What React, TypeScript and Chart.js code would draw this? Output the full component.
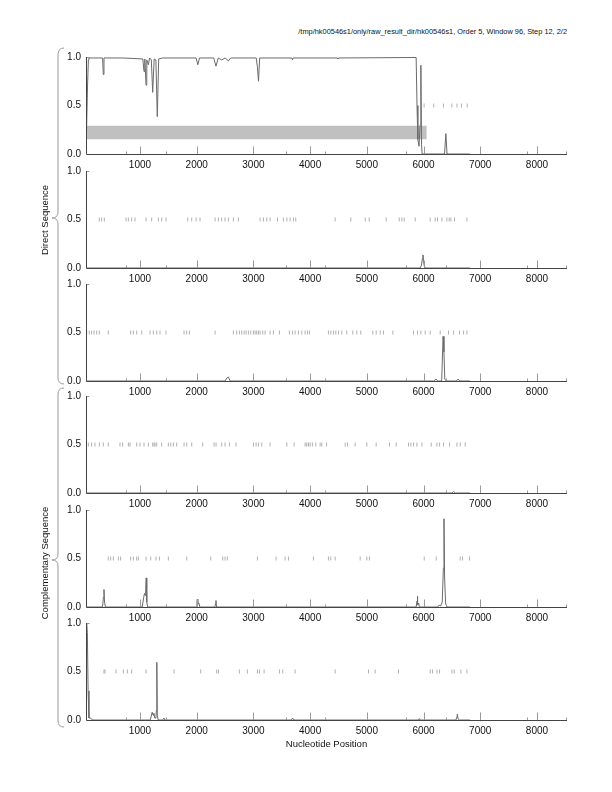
import React, { useEffect, useRef } from "react";
import { Chart, registerables } from "chart.js";
Chart.register(...registerables);

// ---------- data ----------
const X_MIN = 48;
const X_MAX = 8530;
const MAJOR_TICKS = [1000, 2000, 3000, 4000, 5000, 6000, 7000, 8000];
const MINOR_TICKS = [750, 1450, 3570, 4270, 5690, 6400, 7820];
const Y_TICKS = [0, 0.5, 1];

const TITLE = "/tmp/hk00546s1/only/raw_result_dir/hk00546s1, Order 5, Window 96, Step 12, 2/2";
const X_TITLE = "Nucleotide Position";
const DIRECT_LABEL = "Direct Sequence";
const COMPL_LABEL = "Complementary Sequence";

// coding-region bar in panel 1
const BAR_X = [48, 6057];
const BAR_LOW = 0.152;
const BAR_HIGH = 0.29;

const p1X = [48, 60, 75, 90, 100, 340, 353, 365, 700, 1050, 1071, 1085, 1107, 1120, 1147, 1170, 1200, 1224, 1250, 1280, 1305, 1330, 1400, 1990, 2020, 2050, 2300, 2340, 2380, 2441, 2500, 2559, 2600, 3050, 3070, 3090, 3110, 3680, 3688, 3700, 4480, 4488, 4500, 5870, 5885, 5900, 5920, 5940, 5953, 5965, 5975, 6370, 6394, 6415, 6820];
const p1Y = [0, 0, 0.7, 0.97, 0.99, 0.99, 0.82, 0.99, 0.99, 0.98, 0.85, 0.98, 0.71, 0.97, 0.92, 0.99, 0.97, 0.635, 0.98, 0.97, 0.385, 0.98, 0.99, 0.99, 0.92, 0.99, 0.99, 0.905, 0.99, 0.97, 0.99, 0.96, 0.99, 0.99, 0.9, 0.75, 0.99, 0.99, 0.97, 0.99, 0.99, 0.98, 0.99, 0.995, 0.5, 0.15, 0.08, 0.3, 0.915, 0.1, 0, 0, 0.21, 0, 0];

const p2X = [48, 5940, 5965, 5980, 5990, 6000, 6010, 6030, 6820];
const p2Y = [0, 0, 0.03, 0.1, 0.135, 0.08, 0.03, 0, 0];

const p3X = [48, 2500, 2530, 2560, 2590, 6180, 6220, 6250, 6320, 6345, 6360, 6375, 6400, 6580, 6610, 6640, 6820];
const p3Y = [0, 0, 0.03, 0.04, 0, 0, 0.02, 0, 0, 0.46, 0.3, 0.02, 0, 0, 0.02, 0, 0];

const p4X = [48, 6500, 6530, 6560, 6820];
const p4Y = [0, 0, 0.015, 0, 0];

const p5X = [48, 340, 355, 365, 375, 390, 1040, 1065, 1080, 1090, 1100, 1110, 1120, 1135, 1990, 2005, 2011, 2020, 2040, 2055, 2320, 2335, 2340, 2350, 5870, 5885, 5890, 5900, 5915, 5925, 5935, 6250, 6275, 6300, 6330, 6350, 6361, 6372, 6390, 6420, 6820];
const p5Y = [0, 0, 0.1, 0.18, 0.05, 0, 0, 0.1, 0.14, 0.12, 0.18, 0.3, 0.05, 0, 0, 0.06, 0.08, 0.03, 0.04, 0, 0, 0.04, 0.067, 0, 0, 0.06, 0.11, 0.02, 0.04, 0, 0, 0, 0.02, 0.01, 0.05, 0.4, 0.91, 0.3, 0.03, 0, 0];

const p6X = [48, 60, 72, 85, 100, 120, 140, 170, 1180, 1200, 1215, 1230, 1245, 1260, 1280, 1290, 1297, 1305, 1320, 1400, 1420, 1440, 3670, 3690, 3710, 5910, 5925, 5940, 6570, 6590, 6597, 6610, 6630, 6820];
const p6Y = [0.98, 1.0, 0.9, 0.3, 0.02, 0.025, 0.01, 0, 0, 0.04, 0.08, 0.05, 0.07, 0.02, 0.02, 0.1, 0.595, 0.05, 0, 0, 0.02, 0, 0, 0.02, 0, 0, 0.015, 0, 0, 0.03, 0.06, 0.01, 0, 0];

const stops1 = [6010, 6180, 6350, 6500, 6590, 6670, 6770];
const stops2 = [283, 324, 371, 754, 795, 853, 912, 1107, 1206, 1324, 1383, 1459, 1842, 1912, 1989, 2059, 2324, 2383, 2441, 2500, 2559, 2647, 2735, 3118, 3177, 3236, 3294, 3424, 3529, 3589, 3647, 3706, 3747, 4441, 4718, 4971, 5042, 5342, 5571, 5618, 5659, 5853, 6118, 6206, 6247, 6324, 6412, 6453, 6483, 6547, 6765];
const stops3 = [60, 106, 147, 189, 236, 283, 441, 836, 883, 942, 1030, 1177, 1236, 1295, 1353, 1459, 1777, 1824, 1871, 2324, 2647, 2706, 2753, 2794, 2836, 2871, 2912, 2953, 3000, 3030, 3059, 3088, 3118, 3165, 3206, 3294, 3353, 3459, 3635, 3688, 3735, 3794, 3853, 3912, 3953, 3988, 4323, 4365, 4412, 4453, 4500, 4559, 4647, 4753, 4824, 4894, 5106, 5165, 5235, 5294, 5459, 5824, 5894, 5953, 6030, 6118, 6294, 6441, 6530, 6635, 6706, 6765];
const stops4 = [89, 147, 206, 283, 353, 441, 647, 694, 795, 824, 942, 1000, 1071, 1147, 1224, 1248, 1265, 1295, 1383, 1500, 1542, 1588, 1647, 1777, 1824, 1912, 2106, 2306, 2342, 2441, 2500, 2577, 2694, 3000, 3047, 3088, 3147, 3294, 3589, 3718, 3912, 3941, 3971, 4000, 4040, 4100, 4177, 4206, 4290, 4618, 4659, 4794, 5000, 5165, 5400, 5518, 5735, 5777, 5824, 5883, 5971, 6135, 6236, 6283, 6353, 6459, 6589, 6647, 6735];
const stops5 = [441, 483, 530, 618, 659, 836, 883, 942, 971, 1107, 1189, 1283, 1342, 1500, 1824, 2248, 2459, 2500, 2541, 3071, 3400, 3559, 3618, 4059, 4323, 4365, 4441, 4883, 5000, 5047, 6012, 6224, 6647, 6688, 6812];
const stops6 = [365, 383, 577, 706, 777, 853, 1107, 1600, 2071, 2353, 2383, 2753, 2894, 3071, 3106, 3189, 3459, 3518, 3735, 4441, 5030, 5147, 5559, 6118, 6159, 6236, 6283, 6500, 6541, 6659, 6765];

// ---------- layout ----------
const FONT = "'Liberation Sans', Arial, Helvetica, sans-serif";
const PANEL_TOPS = [56, 170, 283, 395, 509, 622];
const PLOT_H = 98;
const PAD_TOP = 10;
const X_AXIS_H = 20;
const AXIS_LEFT = 86;
const AXIS_RIGHT = 567;

const axisPlugin = {
  id: "gmAxes",
  afterDraw(chart: any) {
    const { ctx, chartArea: a, scales } = chart;
    const x = scales.x;
    const L = Math.round(a.left) + 0.5;
    const B = Math.round(a.bottom) + 0.5;
    ctx.save();
    ctx.lineWidth = 1;
    ctx.strokeStyle = "#999";
    ctx.beginPath();
    MAJOR_TICKS.forEach((v) => {
      const px = Math.round(x.getPixelForValue(v)) + 0.5;
      ctx.moveTo(px, B);
      ctx.lineTo(px, B - 8);
    });
    MINOR_TICKS.forEach((v) => {
      const px = Math.round(x.getPixelForValue(v)) + 0.5;
      ctx.moveTo(px, B);
      ctx.lineTo(px, B - 3);
    });
    const R = Math.round(a.right) - 0.5;
    ctx.moveTo(R, B);
    ctx.lineTo(R, B - 3);
    const T = Math.round(a.top) + 0.5;
    ctx.moveTo(L, T);
    ctx.lineTo(L + 3, T);
    ctx.stroke();
    ctx.strokeStyle = "#444";
    ctx.beginPath();
    ctx.moveTo(L, a.top);
    ctx.lineTo(L, B);
    ctx.lineTo(a.right, B);
    ctx.stroke();
    ctx.restore();
  },
};

function pts(xs: number[], ys: number[]) {
  return xs.map((x, i) => ({ x, y: ys[i] }));
}

type PanelProps = {
  top: number;
  xs: number[];
  ys: number[];
  stops: number[];
  bar?: boolean;
};

function Panel({ top, xs, ys, stops, bar }: PanelProps) {
  const ref = useRef<HTMLCanvasElement>(null);
  useEffect(() => {
    if (!ref.current) return;
    const datasets: any[] = [
      {
        type: "line",
        data: pts(xs, ys),
        borderColor: "#6a6a6a",
        borderWidth: 1,
        pointRadius: 0,
        tension: 0,
        fill: false,
        order: 0,
      },
      {
        type: "scatter",
        data: stops.map((s) => ({ x: s, y: 0.5 })),
        pointStyle: "line",
        rotation: 90,
        pointRadius: 2,
        borderColor: "#b0b0b0",
        borderWidth: 1,
        showLine: false,
        order: 1,
      },
    ];
    if (bar) {
      datasets.push(
        {
          type: "line",
          data: BAR_X.map((x) => ({ x, y: BAR_HIGH })),
          borderWidth: 0,
          borderColor: "rgba(0,0,0,0)",
          backgroundColor: "#c0c0c0",
          pointRadius: 0,
          fill: "+1",
          order: 2,
        },
        {
          type: "line",
          data: BAR_X.map((x) => ({ x, y: BAR_LOW })),
          borderWidth: 0,
          borderColor: "rgba(0,0,0,0)",
          pointRadius: 0,
          fill: false,
          order: 3,
        }
      );
    }
    const chart = new Chart(ref.current, {
      type: "line",
      data: { datasets },
      options: {
        animation: false,
        responsive: false,
        devicePixelRatio: 1,
        layout: { padding: { left: 0, right: 612 - AXIS_RIGHT, top: PAD_TOP, bottom: 0 } },
        plugins: { legend: { display: false }, tooltip: { enabled: false } },
        scales: {
          x: {
            type: "linear",
            min: X_MIN,
            max: X_MAX,
            afterBuildTicks: (s: any) => {
              s.ticks = MAJOR_TICKS.map((v) => ({ value: v }));
            },
            afterFit: (s: any) => {
              s.height = X_AXIS_H;
            },
            grid: { display: false, drawTicks: false },
            border: { display: false },
            ticks: {
              autoSkip: false,
              maxRotation: 0,
              padding: 5,
              color: "#111",
              font: { family: FONT, size: 10 },
              callback: (v: any) => String(v),
            },
          },
          y: {
            type: "linear",
            min: 0,
            max: 1,
            afterBuildTicks: (s: any) => {
              s.ticks = Y_TICKS.map((v) => ({ value: v }));
            },
            afterFit: (s: any) => {
              s.width = AXIS_LEFT;
            },
            grid: { display: false, drawTicks: false },
            border: { display: false },
            ticks: {
              padding: 5,
              color: "#111",
              font: { family: FONT, size: 10 },
              callback: (v: any) => Number(v).toFixed(1),
            },
          },
        },
      } as any,
      plugins: [axisPlugin],
    } as any);
    return () => chart.destroy();
  }, []);
  const h = PAD_TOP + PLOT_H + X_AXIS_H;
  return (
    <canvas
      ref={ref}
      width={612}
      height={h}
      style={{ position: "absolute", left: 0, top: top - PAD_TOP, width: 612, height: h }}
    />
  );
}

const PANELS = [
  { xs: p1X, ys: p1Y, stops: stops1, bar: true },
  { xs: p2X, ys: p2Y, stops: stops2 },
  { xs: p3X, ys: p3Y, stops: stops3 },
  { xs: p4X, ys: p4Y, stops: stops4 },
  { xs: p5X, ys: p5Y, stops: stops5 },
  { xs: p6X, ys: p6Y, stops: stops6 },
];

export default function App() {
  const textBase: React.CSSProperties = {
    position: "absolute",
    fontFamily: FONT,
    fontSize: 10,
    color: "#111",
    whiteSpace: "nowrap",
    lineHeight: "12px",
  };
  return (
    <div style={{ position: "fixed", left: 0, top: 0, width: 612, height: 792, background: "#fff", overflow: "hidden" }}>
      <div style={{ ...textBase, fontSize: 7.4, lineHeight: "9px", right: 612 - AXIS_RIGHT, top: 27 }}>{TITLE}</div>
      {PANELS.map((p, i) => (
        <Panel key={i} top={PANEL_TOPS[i]} xs={p.xs} ys={p.ys} stops={p.stops} bar={p.bar} />
      ))}
      <svg style={{ position: "absolute", left: 0, top: 0 }} width={612} height={792}>
        <path d="M64,48 Q58,48 58,55 L58,212 Q58,218 52,218 Q58,218 58,224 L58,378 Q58,384 64,384" fill="none" stroke="#999" strokeWidth={1} />
        <path d="M64,388 Q58,388 58,394 L58,554 Q58,560 52,560 Q58,560 58,566 L58,721 Q58,727 64,727" fill="none" stroke="#999" strokeWidth={1} />
      </svg>
      <div style={{ ...textBase, fontSize: 9.5, left: 45, top: 220, transform: "translate(-50%, -50%) rotate(-90deg)" }}>{DIRECT_LABEL}</div>
      <div style={{ ...textBase, fontSize: 9.5, left: 45, top: 563, transform: "translate(-50%, -50%) rotate(-90deg)" }}>{COMPL_LABEL}</div>
      <div style={{ ...textBase, fontSize: 9.5, left: (AXIS_LEFT + AXIS_RIGHT) / 2, top: 744, transform: "translate(-50%, -50%)" }}>{X_TITLE}</div>
    </div>
  );
}
